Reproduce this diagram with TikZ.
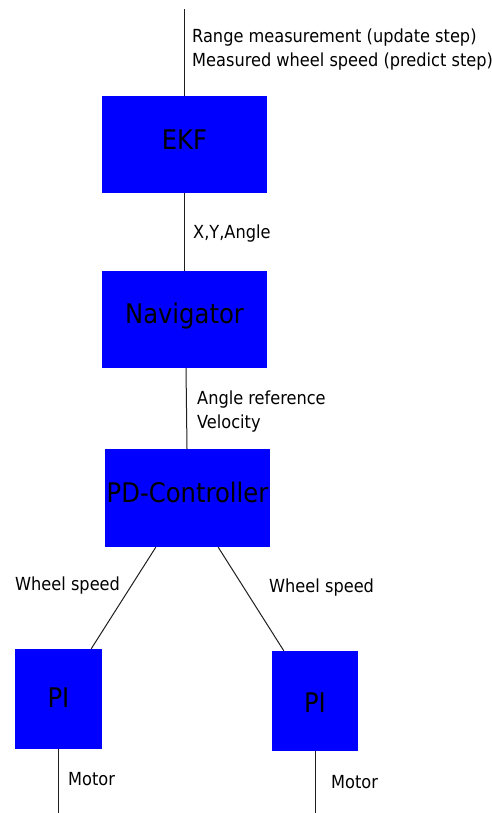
\documentclass[tikz,border=0pt]{standalone}
\usepackage{fontspec}
\setmainfont{DejaVu Sans Condensed}
\begin{document}
\begin{tikzpicture}[x=1pt,y=-1pt,
  blk/.style={fill={rgb,255:red,0;green,0;blue,255}, draw=none, inner sep=0pt,
    font=\fontsize{27}{32}\selectfont, text=black, text height=20pt, text depth=10pt},
  lbl/.style={inner sep=0pt, anchor=base west, align=left,
    font=\fontsize{18}{24}\selectfont, text=black},
  wire/.style={draw={rgb,255:red,30;green,30;blue,30}, line width=1pt}]
\useasboundingbox (0,0) rectangle (492,813);
% blocks
\node[blk, minimum width=165pt, minimum height=97pt] (ekf) at (184.5,144.5) {EKF};
\node[blk, minimum width=165pt, minimum height=97pt, text depth=13pt] (nav) at (184.5,319.5) {Navigator};
\node[blk, minimum width=165pt, minimum height=98pt, text depth=12pt] (pd) at (187.5,498) {PD-Controller};
\node[blk, minimum width=87pt, minimum height=100pt, text depth=4pt] (pil) at (58.5,699) {PI};
\node[blk, minimum width=86pt, minimum height=100pt, text height=22pt, text depth=0pt] (pir) at (315,701) {PI};
% free ends
\coordinate (in) at (184.5,9.5);
\coordinate (ml) at (58.5,813);
\coordinate (mr) at (315.5,813);
% connectors
\draw[wire] (in) -- (ekf.north);
\draw[wire] (ekf.south) -- (nav.north);
\draw[wire] ([xshift=1.5pt]nav.south) -- ([xshift=-0.5pt]pd.north);
\draw[wire] ([xshift=51pt]pd.south west) -- ([xshift=-11pt]pil.north east);
\draw[wire] ([xshift=-52pt]pd.south east) -- ([xshift=12pt]pir.north west);
\draw[wire] (pil.south) -- (ml);
\draw[wire] ([xshift=0.5pt]pir.south) -- (mr);
% labels (multi-line nodes: base = last line)
\node[lbl] (t1) at (192,67) {Range measurement (update step)\\Measured wheel speed (predict step)};
\node[lbl] (t2) at (193,238) {X,Y,Angle};
\node[lbl] (t3) at (197,428) {Angle reference\\Velocity};
\node[lbl] (t4) at (15,590) {Wheel speed};
\node[lbl] (t5) at (269,592) {Wheel speed};
\node[lbl] (t6) at (68,785) {Motor};
\node[lbl] (t7) at (331,788) {Motor};
\end{tikzpicture}
\end{document}
